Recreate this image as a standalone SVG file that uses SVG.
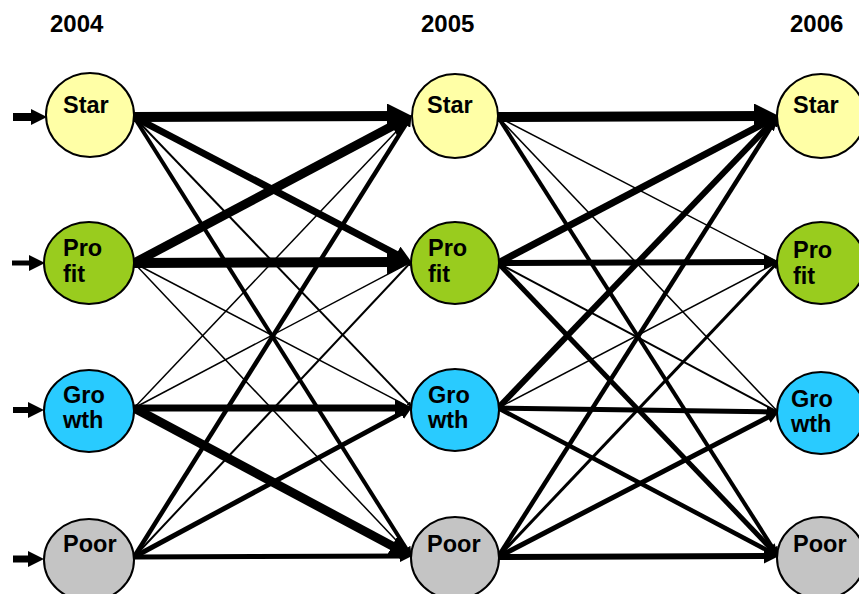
<svg xmlns="http://www.w3.org/2000/svg" width="859" height="594" viewBox="0 0 859 594">
<style>
.hdr{font-family:"Liberation Sans",Arial,sans-serif;font-weight:bold;font-size:24px;fill:#000}
.lbl{font-family:"Liberation Sans",Arial,sans-serif;font-weight:bold;font-size:23.5px;fill:#000}
.node{stroke:#000;stroke-width:2}
.star{fill:#FFFFA6}
.profit{fill:#99CC1E}
.growth{fill:#29CBFF}
.poor{fill:#C4C4C4}
.c line{stroke:#000;fill:none;marker-end:url(#ah)}
.in line{stroke:#000;marker-end:url(#ain)}
</style>
<defs>
<marker id="ah" viewBox="0 0 10 10" markerWidth="2.5" markerHeight="2.5" markerUnits="strokeWidth" refX="4" refY="5" orient="auto">
<path d="M0,0 L10,5 L0,10 z" fill="#000"/>
</marker>
<marker id="ain" viewBox="0 0 10 10" markerWidth="16" markerHeight="16" markerUnits="userSpaceOnUse" refX="0" refY="5" orient="auto">
<path d="M0,0 L10,5 L0,10 z" fill="#000"/>
</marker>
</defs>
<rect width="859" height="594" fill="#fff"/>
<g id="headers">
<text class="hdr" x="50" y="32">2004</text>
<text class="hdr" x="421" y="32">2005</text>
<text class="hdr" x="790" y="32">2006</text>
</g>
<g id="connectors">
<g class="in">
<line x1="13" y1="117" x2="31" y2="117" stroke-width="8"/>
<line x1="12" y1="263" x2="29" y2="263" stroke-width="5"/>
<line x1="13" y1="410" x2="28" y2="410" stroke-width="6"/>
<line x1="13" y1="559" x2="28" y2="559" stroke-width="7"/>
</g>
<g class="c">
<line x1="134" y1="117" x2="397" y2="116" stroke-width="10"/>
<line x1="134" y1="117" x2="402.6" y2="257.6" stroke-width="7"/>
<line x1="134" y1="117" x2="409.6" y2="404.6" stroke-width="2"/>
<line x1="134" y1="117" x2="408.3" y2="551.8" stroke-width="4"/>
<line x1="134" y1="263" x2="400" y2="121.9" stroke-width="9"/>
<line x1="134" y1="263" x2="397" y2="262" stroke-width="10"/>
<line x1="134" y1="263" x2="409.9" y2="407.4" stroke-width="1.5"/>
<line x1="134" y1="263" x2="410.1" y2="555.1" stroke-width="1.5"/>
<line x1="134" y1="408" x2="410.1" y2="116.9" stroke-width="1.5"/>
<line x1="134" y1="408" x2="409.9" y2="262.6" stroke-width="1.5"/>
<line x1="134" y1="408" x2="401.5" y2="408" stroke-width="7"/>
<line x1="134" y1="408" x2="400" y2="550.1" stroke-width="9"/>
<line x1="134" y1="557" x2="407.9" y2="120.9" stroke-width="4.5"/>
<line x1="134" y1="557" x2="409.6" y2="263.5" stroke-width="2"/>
<line x1="134" y1="557" x2="405.3" y2="411.1" stroke-width="5"/>
<line x1="134" y1="557" x2="404.5" y2="556" stroke-width="5"/>

<line x1="498" y1="117" x2="764" y2="116" stroke-width="10"/>
<line x1="498" y1="117" x2="776.9" y2="261.4" stroke-width="1.5"/>
<line x1="498" y1="117" x2="777.1" y2="411.1" stroke-width="1.5"/>
<line x1="498" y1="117" x2="775.3" y2="551.8" stroke-width="4"/>
<line x1="498" y1="263" x2="769.6" y2="120.4" stroke-width="7"/>
<line x1="498" y1="263" x2="770" y2="262" stroke-width="6"/>
<line x1="498" y1="263" x2="776.2" y2="411.1" stroke-width="2"/>
<line x1="498" y1="263" x2="773.5" y2="551.3" stroke-width="5"/>
<line x1="498" y1="408" x2="772.5" y2="121.8" stroke-width="6"/>
<line x1="498" y1="408" x2="776.9" y2="262.6" stroke-width="1.5"/>
<line x1="498" y1="408" x2="771.5" y2="411.9" stroke-width="5"/>
<line x1="498" y1="408" x2="772.9" y2="553.3" stroke-width="4.5"/>
<line x1="498" y1="557" x2="774.9" y2="120.9" stroke-width="4.5"/>
<line x1="498" y1="557" x2="775.6" y2="264.5" stroke-width="3"/>
<line x1="498" y1="557" x2="772.2" y2="415" stroke-width="5"/>
<line x1="498" y1="557" x2="770" y2="556" stroke-width="6"/>
</g>
</g>
<g id="star2004"><ellipse class="node star" cx="90" cy="115" rx="44" ry="42"/><text class="lbl" x="63" y="113">Star</text></g>
<g id="profit2004"><ellipse class="node profit" cx="89" cy="263" rx="45" ry="41"/><text class="lbl" x="63" y="256">Pro</text><text class="lbl" x="63" y="282">fit</text></g>
<g id="growth2004"><ellipse class="node growth" cx="89" cy="411" rx="45" ry="41"/><text class="lbl" x="63" y="403">Gro</text><text class="lbl" x="63" y="428">wth</text></g>
<g id="poor2004"><ellipse class="node poor" cx="89" cy="560" rx="45" ry="41"/><text class="lbl" x="63" y="552">Poor</text></g>

<g id="star2005"><ellipse class="node star" cx="455" cy="116" rx="43" ry="42"/><text class="lbl" x="427" y="113">Star</text></g>
<g id="profit2005"><ellipse class="node profit" cx="455" cy="263" rx="44" ry="41"/><text class="lbl" x="428" y="256">Pro</text><text class="lbl" x="428" y="282">fit</text></g>
<g id="growth2005"><ellipse class="node growth" cx="455" cy="410" rx="44" ry="41"/><text class="lbl" x="428" y="403">Gro</text><text class="lbl" x="428" y="428">wth</text></g>
<g id="poor2005"><ellipse class="node poor" cx="455" cy="558" rx="44" ry="41"/><text class="lbl" x="427" y="552">Poor</text></g>

<g id="star2006"><ellipse class="node star" cx="821" cy="116" rx="44" ry="42"/><text class="lbl" x="793" y="113">Star</text></g>
<g id="profit2006"><ellipse class="node profit" cx="821" cy="263" rx="44" ry="41"/><text class="lbl" x="793" y="258">Pro</text><text class="lbl" x="793" y="284">fit</text></g>
<g id="growth2006"><ellipse class="node growth" cx="821" cy="413" rx="44" ry="41"/><text class="lbl" x="791" y="407">Gro</text><text class="lbl" x="791" y="432">wth</text></g>
<g id="poor2006"><ellipse class="node poor" cx="821" cy="558" rx="44" ry="41"/><text class="lbl" x="793" y="552">Poor</text></g>
</svg>
